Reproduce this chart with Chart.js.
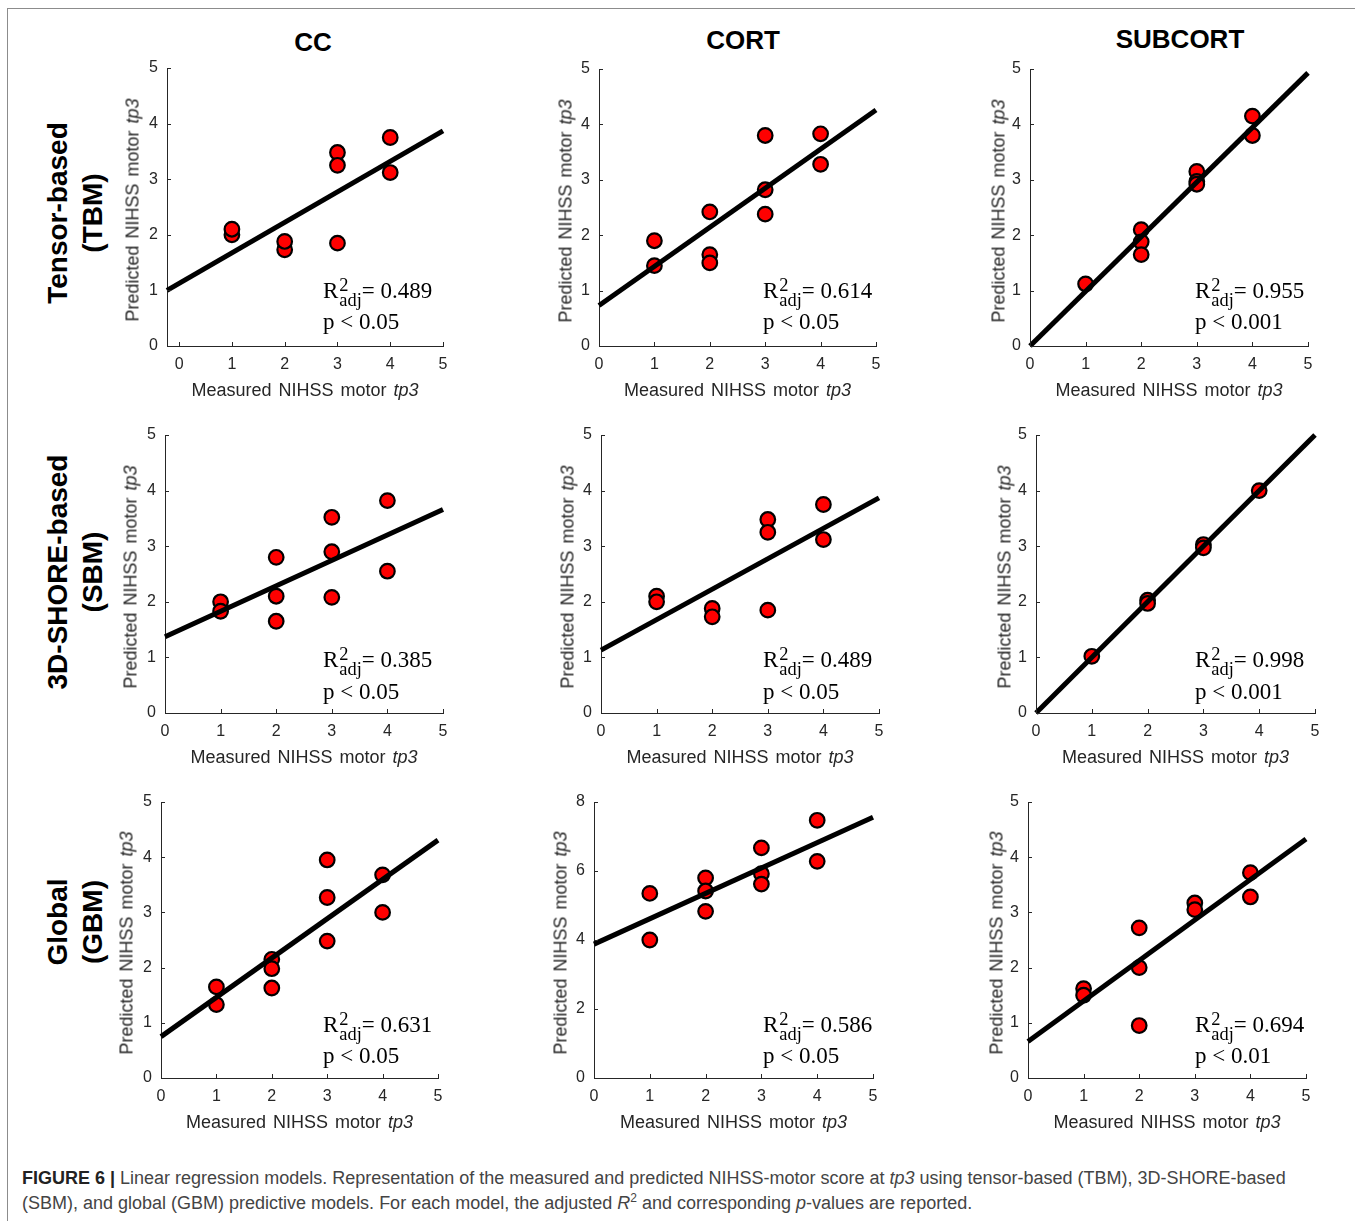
<!DOCTYPE html>
<html lang="en">
<head>
<meta charset="UTF-8">
<title>Figure 6 - Linear regression models</title>
<script src="https://cdn.jsdelivr.net/npm/chart.js"></script>
<style>
  body { margin: 0; background: #fff; font-family: "Liberation Sans", Arial, sans-serif; }
  #page { position: relative; width: 1355px; height: 1221px; overflow: hidden; background: #fff; }
  .frameTop { position: absolute; left: 7px; top: 8px; width: 1348px; height: 1px; background: #8c8c8c; }
  .frameLeft { position: absolute; left: 7px; top: 8px; width: 1px; height: 1213px; background: #8c8c8c; }
  .panel { position: absolute; }
  .colTitle { position: absolute; font-weight: bold; font-size: 26px; color: #000; white-space: nowrap; transform: translate(-50%, -50%); }
  .rowTitle { position: absolute; font-weight: bold; font-size: 28px; line-height: 35px; color: #000; text-align: center; white-space: nowrap; transform: translate(-50%, -50%) rotate(-90deg); }
  .ytitle { position: absolute; font-size: 18px; color: #262626; white-space: nowrap; word-spacing: 2px; transform: translate(-50%, -50%) rotate(-90deg); }
  .xtitle { position: absolute; font-size: 18px; color: #262626; white-space: nowrap; word-spacing: 2px; transform: translate(-50%, -50%); }
  .ann { position: absolute; font-family: "Liberation Serif", "DejaVu Serif", serif; font-size: 23px; line-height: 30px; color: #000; white-space: nowrap; transform: translateY(-50%); }
  .ss { display: inline-block; vertical-align: -0.45em; font-size: 0.8em; line-height: 0.82em; text-align: left; margin-left: 1px; }
  .ss span { display: block; }
  .caption { position: absolute; left: 22px; top: 1166px; font-size: 18px; line-height: 25px; color: #444; white-space: nowrap; }
  .caption sup { font-size: 12px; line-height: 0; }
</style>
</head>
<body>
<div id="page">
  <div class="frameTop"></div>
  <div class="frameLeft"></div>
  <div class="caption"><b style="color:#222">FIGURE 6 |</b> Linear regression models. Representation of the measured and predicted NIHSS-motor score at <i>tp3</i> using tensor-based (TBM), 3D-SHORE-based<br>(SBM), and global (GBM) predictive models. For each model, the adjusted <i>R</i><sup>2</sup> and corresponding <i>p</i>-values are reported.</div>
</div>

<script>
// rows = models, columns = regions
const models = ['Tensor-based', '3D-SHORE-based', 'Global'];
const modelTags = ['(TBM)', '(SBM)', '(GBM)'];
const regions = ['CC', 'CORT', 'SUBCORT'];

// measured NIHSS motor tp3 (x) / predicted (y), one list per region: CC, CORT, SUBCORT
const tbmMeasured = [[1, 1, 2, 2, 3, 3, 3, 4, 4], [1, 1, 2, 2, 2, 3, 3, 3, 4, 4], [1, 2, 2, 2, 3, 3, 3, 4, 4]];
const tbmPredicted = [[2.0, 2.1, 1.73, 1.88, 3.48, 3.25, 1.85, 3.75, 3.12], [1.9, 1.45, 2.42, 1.65, 1.5, 3.8, 2.82, 2.38, 3.83, 3.28], [1.12, 2.1, 1.88, 1.65, 3.15, 2.97, 2.92, 4.15, 3.8]];
const sbmMeasured = [[1, 1, 2, 2, 2, 3, 3, 3, 4, 4], [1, 1, 2, 2, 3, 3, 3, 4, 4], [1, 2, 2, 3, 3, 4]];
const sbmPredicted = [[2.0, 1.83, 2.8, 2.1, 1.65, 3.52, 2.9, 2.08, 3.82, 2.55], [2.1, 2.0, 1.88, 1.73, 3.48, 3.25, 1.85, 3.75, 3.12], [1.02, 2.03, 1.97, 3.03, 2.97, 4.0]];
const gbmMeasured = [[1, 1, 2, 2, 2, 3, 3, 3, 4, 4], [1, 1, 2, 2, 2, 3, 3, 3, 4, 4], [1, 1, 2, 2, 2, 3, 3, 4, 4]];
const gbmPredicted = [[1.65, 1.33, 2.15, 1.98, 1.63, 3.95, 3.27, 2.48, 3.68, 3.0], [5.35, 4.0, 5.8, 5.42, 4.83, 6.67, 5.92, 5.62, 7.47, 6.28], [1.62, 1.5, 2.72, 2.0, 0.95, 3.17, 3.05, 3.72, 3.28]];

// regression line end points [x0, y0, x1, y1]
const tbmFit = [[-0.23, 1.0, 5, 3.87], [0, 0.73, 5, 4.26], [0, 0, 5, 4.93]];
const sbmFit = [[0, 1.37, 5, 3.66], [0, 1.13, 5, 3.87], [0, 0, 5, 5]];
const gbmFit = [[0, 0.75, 5, 4.31], [0, 3.88, 5, 7.56], [0, 0.66, 5, 4.33]];

const tbmR2 = ['0.489', '0.614', '0.955'];
const sbmR2 = ['0.385', '0.489', '0.998'];
const gbmR2 = ['0.631', '0.586', '0.694'];
const tbmP = ['0.05', '0.05', '0.001'];
const sbmP = ['0.05', '0.05', '0.001'];
const gbmP = ['0.05', '0.05', '0.01'];

const xTicks = [0, 1, 2, 3, 4, 5];
const yTicks = [0, 1, 2, 3, 4, 5];
const yTicksWide = [0, 2, 4, 6, 8];

const measured = [tbmMeasured, sbmMeasured, gbmMeasured];
const predicted = [tbmPredicted, sbmPredicted, gbmPredicted];
const fits = [tbmFit, sbmFit, gbmFit];
const r2s = [tbmR2, sbmR2, gbmR2];
const ps = [tbmP, sbmP, gbmP];

// plot boxes in page pixels [left, right, top, bottom]
const boxes = [
  [[167, 443, 68, 346], [599, 876, 69, 346], [1030, 1308, 69, 346]],
  [[165, 443, 435, 713], [601, 879, 435, 713], [1036, 1315, 435, 713]],
  [[161, 438, 802, 1078], [594, 873, 802, 1078], [1028, 1306, 802, 1078]]
];
const colTitleX = [313, 743, 1180];
const colTitleY = [42, 40, 39];
const rowCenterY = [213, 572, 922];
const yTitleGap = [34, 33, 31];
const annX = [323, 763, 1195];
const annRY = [292, 661, 1026];
const annPY = [322, 692, 1056];

const page = document.getElementById('page');
const axisColor = '#262626';
const tickFont = { family: '"Liberation Sans", Arial, sans-serif', size: 16 };

// matlab style ticks, pointing into the axes
const inwardTicks = {
  id: 'inwardTicks',
  afterDraw(chart) {
    const { ctx, chartArea: a } = chart;
    const x = chart.scales.x, y = chart.scales.y;
    ctx.save();
    ctx.strokeStyle = axisColor;
    ctx.lineWidth = 1;
    ctx.beginPath();
    x.ticks.forEach(t => {
      const px = Math.round(x.getPixelForValue(t.value)) + 0.5;
      ctx.moveTo(px, a.bottom);
      ctx.lineTo(px, a.bottom - 4);
    });
    y.ticks.forEach(t => {
      const py = Math.round(y.getPixelForValue(t.value)) + 0.5;
      ctx.moveTo(a.left, py);
      ctx.lineTo(a.left + 4, py);
    });
    ctx.stroke();
    ctx.restore();
  }
};

function addText(cls, html, left, top) {
  const d = document.createElement('div');
  d.className = cls;
  d.innerHTML = html;
  d.style.left = left + 'px';
  d.style.top = top + 'px';
  page.appendChild(d);
  return d;
}

function makePanel(row, col) {
  const [L, R, T, B] = boxes[row][col];
  const xs = measured[row][col], ys = predicted[row][col], fit = fits[row][col];
  const yt = (row === 2 && col === 1) ? yTicksWide : yTicks;
  const padL = 60, padT = 12, padR = 14, padB = 40;

  const div = document.createElement('div');
  div.className = 'panel';
  div.style.left = (L - padL) + 'px';
  div.style.top = (T - padT) + 'px';
  div.style.width = (R - L + padL + padR) + 'px';
  div.style.height = (B - T + padT + padB) + 'px';
  const cv = document.createElement('canvas');
  div.appendChild(cv);
  page.appendChild(div);

  new Chart(cv, {
    type: 'scatter',
    data: {
      datasets: [
        {
          type: 'line',
          data: [{ x: fit[0], y: fit[1] }, { x: fit[2], y: fit[3] }],
          borderColor: '#000',
          borderWidth: 5,
          borderCapStyle: 'butt',
          pointRadius: 0,
          clip: false
        },
        {
          data: xs.map((x, i) => ({ x: x, y: ys[i] })),
          backgroundColor: '#ff0000',
          borderColor: '#000',
          borderWidth: 2.2,
          pointRadius: 7.3
        }
      ]
    },
    options: {
      responsive: true,
      maintainAspectRatio: false,
      animation: false,
      events: [],
      layout: { padding: { left: 0, top: padT, right: padR, bottom: 0 } },
      plugins: { legend: { display: false }, tooltip: { enabled: false } },
      scales: {
        x: {
          type: 'linear',
          min: Math.min(0, fit[0]),
          max: 5,
          afterBuildTicks: s => { s.ticks = xTicks.map(v => ({ value: v })); },
          afterFit: s => { s.height = padB; s.paddingLeft = 0; s.paddingRight = 0; },
          grid: { display: false, drawTicks: false },
          border: { display: true, color: axisColor, width: 1 },
          ticks: { padding: 9, color: axisColor, font: tickFont, maxRotation: 0, autoSkip: false }
        },
        y: {
          type: 'linear',
          min: 0,
          max: yt[yt.length - 1],
          afterBuildTicks: s => { s.ticks = yt.map(v => ({ value: v })); },
          afterFit: s => { s.width = padL; s.paddingTop = 0; s.paddingBottom = 0; },
          grid: { display: false, drawTicks: false },
          border: { display: true, color: axisColor, width: 1 },
          ticks: { padding: 9, color: axisColor, font: tickFont, autoSkip: false }
        }
      }
    },
    plugins: [inwardTicks]
  });

  addText('ytitle', 'Predicted NIHSS motor <i>tp3</i>', L - yTitleGap[col], (T + B) / 2 + 3);
  addText('xtitle', 'Measured NIHSS motor <i>tp3</i>', (L + R) / 2, B + 44);
  addText('ann', 'R<span class="ss"><span>2</span><span>adj</span></span>= ' + r2s[row][col], annX[col], annRY[row]);
  addText('ann', 'p &lt; ' + ps[row][col], annX[col], annPY[row]);
}

regions.forEach((r, c) => addText('colTitle', r, colTitleX[c], colTitleY[c]));
models.forEach((m, r) => addText('rowTitle', m + '<br>' + modelTags[r], 75, rowCenterY[r]));

for (let row = 0; row < 3; row++) {
  for (let col = 0; col < 3; col++) makePanel(row, col);
}
</script>
</body>
</html>
